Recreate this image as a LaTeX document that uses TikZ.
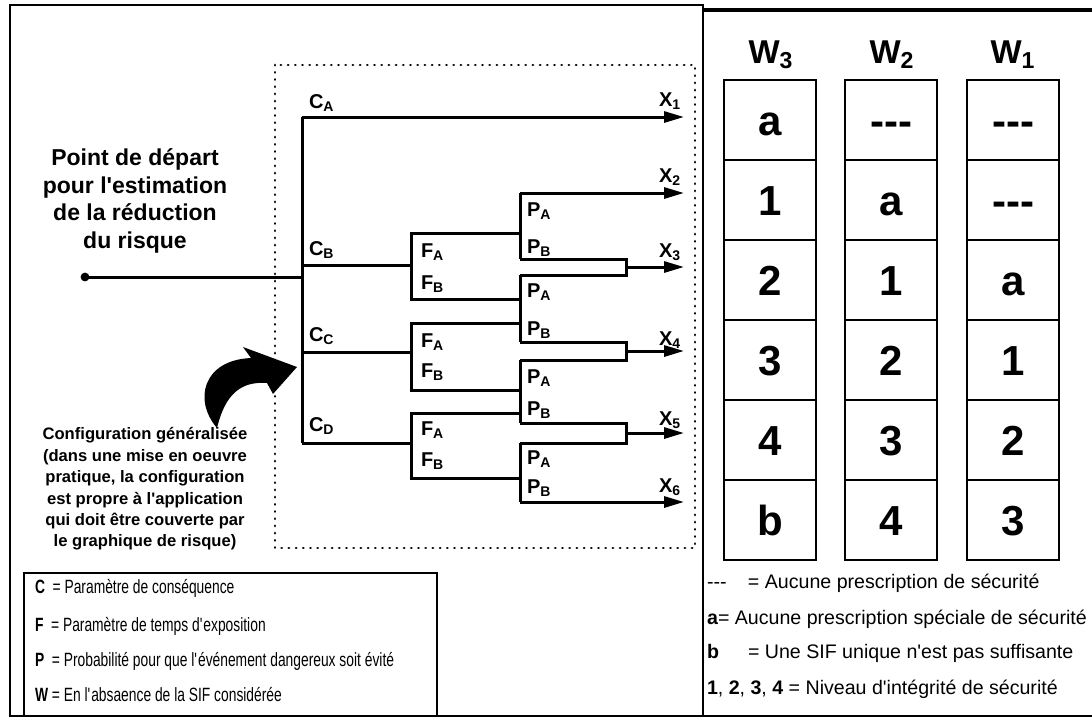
\documentclass[tikz,border=0pt]{standalone}
\usepackage{fontspec}
\setmainfont{Liberation Sans}
\newfontfamily\narrowfont[FakeStretch=0.72]{Liberation Sans}
\usetikzlibrary{arrows.meta,positioning}
\newcommand{\tirets}{-{}-{}-}
\newcommand{\apos}{\textquotesingle}

\begin{document}
\begin{tikzpicture}[
  x=0.5pt, y=-0.5pt,
  every node/.style={inner sep=0pt, outer sep=0pt},
  frame/.style={line width=1.1pt},
  tree/.style={line width=1.5pt},
  arr/.style={tree, -{Triangle[length=10pt, width=5.5pt]}},
  dotbox/.style={line width=1.4pt, dash pattern=on 0.1pt off 3.5pt, line cap=round},
  lbl/.style={anchor=west, font=\bfseries\fontsize{10}{11}\selectfont},
  cell/.style={draw, line width=1.3pt, minimum width=46pt, minimum height=40pt,
               text height=15pt, text depth=0pt,
               font=\bfseries\fontsize{21}{21}\selectfont},
  head/.style={anchor=base, font=\bfseries\fontsize{16.5}{16}\selectfont},
  key/.style={anchor=west, font=\narrowfont\fontsize{9.6}{10}\selectfont},
  note/.style={anchor=west, font=\fontsize{9.8}{11}\selectfont}
]
\useasboundingbox (0,0) rectangle (1092,720);

% frames
\draw[frame] (10,5) rectangle (703,716);
\draw[line width=1.8pt] (703,10) -- (1092,10);
\draw[frame] (703,716) -- (1092,716);
\draw[line width=1.4pt] (703,5) -- (703,716);
\draw[frame] (24,573) rectangle (437,716);
\draw[dotbox] (275,65) rectangle (695,548);

% starting point
\node[font=\bfseries\fontsize{11.5}{13.8}\selectfont, align=center] (startlbl) at (135,201)
  {Point de départ\\pour l\apos estimation\\de la réduction\\du risque};
\coordinate (start) at (85,277);
\coordinate (trunk) at (302,277);
\coordinate (ctop) at (302,117);
\coordinate (cbot) at (302,443);
\fill (start) circle (2.2pt);
\draw[tree] (start) -- (trunk);
\draw[tree] (ctop) -- (cbot);

% arrow tips
\foreach \i/\y in {1/117, 2/193, 3/267, 4/351, 5/433, 6/502}
  \coordinate (tip\i) at (684,\y);

% C -> F
\foreach \c/\yc/\fa/\fb in {B/265/233/299, C/352/323/390, D/443/413/478}{
  \coordinate (c\c) at (302,\yc);
  \coordinate (f\c) at (411,\yc);
  \draw[tree] (c\c) -- (f\c);
  \draw[tree] (520,\fa) -- (411,\fa) -- (411,\fb) -- (520,\fb);
}

% P branches
\foreach \top/\bot in {193/259, 275/342, 360/423, 443/502}
  \draw[tree] (520,\top) -- (520,\bot);
\foreach \x/\top/\bot in {3/259/275, 4/342/360, 5/423/443}{
  \draw[tree] (520,\top) -| (626,\bot) -- (520,\bot);
  \draw[arr] (626,{(\top+\bot)/2}) -- (tip\x);
}
\draw[arr] (ctop) -- (tip1);
\draw[arr] (520,193) -- (tip2);
\draw[arr] (520,502) -- (tip6);

% labels
\node[lbl] (lcA) at (309,103) {C\textsubscript{A}};
\node[lbl] (lcB) at (309,250) {C\textsubscript{B}};
\node[lbl] (lcC) at (309,336) {C\textsubscript{C}};
\node[lbl] (lcD) at (309,426) {C\textsubscript{D}};
\foreach \y in {252, 342, 430}
  \node[lbl] at (421,\y) {F\textsubscript{A}};
\foreach \y in {284, 372, 461}
  \node[lbl] at (421,\y) {F\textsubscript{B}};
\foreach \y in {211, 292, 378, 459}
  \node[lbl] at (527,\y) {P\textsubscript{A}};
\foreach \y in {248, 330, 410, 488}
  \node[lbl] at (527,\y) {P\textsubscript{B}};
\foreach \i/\y in {1/101, 2/177, 3/252, 4/340, 5/420, 6/487}
  \node[lbl] (x\i) at (659,\y) {X\textsubscript{\i}};

% curved arrow
\fill (217,428) .. controls (193,400) and (203,360) .. (251,358) -- (243,347)
  -- (297,367) -- (273,394) -- (267,383) .. controls (240,381) and (225,395) .. cycle;
\node[font=\bfseries\fontsize{8.3}{10.7}\selectfont, align=center] (config) at (145,489)
  {Configuration généralisée\\(dans une mise en oeuvre\\pratique, la configuration\\est propre à l\apos application\\qui doit être couverte par\\le graphique de risque)};

% legend left
\node[key] (kC) at (35,588) {\textbf{C}~ = Paramètre de conséquence};
\node[key] (kF) at (35,626) {\textbf{F}~ = Paramètre de temps d\apos exposition};
\node[key] (kP) at (35,661) {\textbf{P}~ = Probabilité pour que l\apos événement dangereux soit évité};
\node[key] (kW) at (35,695) {\textbf{W} = En l\apos absaence de la SIF considérée};

% W table
\node[head] (hw3) at (771,63) {W\textsubscript{3}};
\node[head] (hw2) at (892,63) {W\textsubscript{2}};
\node[head] (hw1) at (1013,63) {W\textsubscript{1}};
\foreach \v [count=\r] in {a,1,2,3,4,b}
  \node[cell] (w3-\r) at (770,{40+80*\r}) {\v};
\foreach \v [count=\r] in {\tirets,a,1,2,3,4}
  \node[cell] (w2-\r) at (891,{40+80*\r}) {\v};
\foreach \v [count=\r] in {\tirets,\tirets,a,1,2,3}
  \node[cell] (w1-\r) at (1013,{40+80*\r}) {\v};

% legend right
\node[note] (n1) at (707,583) {\makebox[20.5pt][l]{\tirets}= Aucune prescription de sécurité};
\node[note] (n2) at (707,619) {\textbf{a}= Aucune prescription spéciale de sécurité};
\node[note] (n3) at (707,653) {\makebox[20.5pt][l]{\textbf{b}}= Une SIF unique n\apos est pas suffisante};
\node[note] (n4) at (707,689) {\textbf{1}, \textbf{2}, \textbf{3}, \textbf{4} = Niveau d\apos intégrité de sécurité};
\end{tikzpicture}
\end{document}
